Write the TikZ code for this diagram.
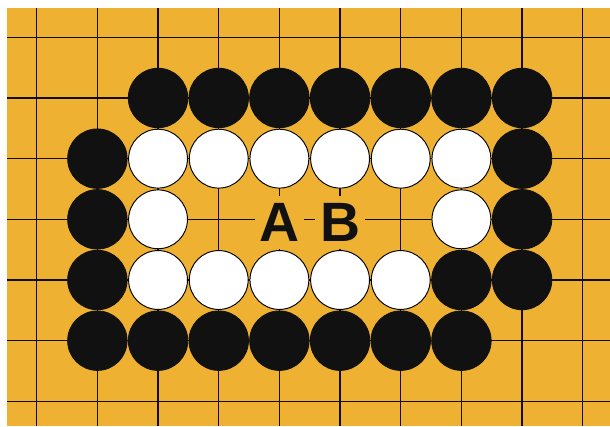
\documentclass[tikz,border=0pt]{standalone}
\usepackage{fontspec}
\usepackage{xcolor}
\usepackage{tikz}
\usetikzlibrary{positioning}
\newfontfamily\labelfont{Liberation Sans}
\definecolor{goboard}{HTML}{EFB132}
\definecolor{stoneblack}{HTML}{111111}

\begin{document}
\begin{tikzpicture}[x=1cm,y=-1cm,
  gridline/.style={line width=0.6pt,black!90!brown},
  blackstone/.style={circle,fill=stoneblack,draw=stoneblack,line width=0.4pt,minimum size=0.98cm,inner sep=0pt},
  whitestone/.style={circle,fill=white,draw=black,line width=0.45pt,minimum size=0.97cm,inner sep=0pt},
  pointlabel/.style={fill=goboard,inner sep=0pt,minimum width=0.81cm,minimum height=0.87cm,
    font=\labelfont\bfseries\fontsize{26}{31}\selectfont,text=stoneblack}]
  \useasboundingbox[fill=white] (-0.605,-0.615) rectangle (9.449,6.407);
  \fill[goboard] (-0.49,-0.49) rectangle (9.449,6.407);
  % grid
  \foreach \c in {0,...,9}
    \draw[gridline] (\c,-0.49) -- (\c,6.407);
  \foreach \r in {0,...,6}
    \draw[gridline] (-0.49,\r) -- (9.449,\r);
  % black stones
  \foreach \c in {2,...,8}
    \node[blackstone] (b1-\c) at (\c,1) {};
  \foreach \c/\r in {1/2,8/2,1/3,8/3,1/4,7/4,8/4}
    \node[blackstone] (b\r-\c) at (\c,\r) {};
  \foreach \c in {1,...,7}
    \node[blackstone] (b5-\c) at (\c,5) {};
  % white stones
  \foreach \c in {2,...,7}
    \node[whitestone] (w2-\c) at (\c,2) {};
  \foreach \c in {2,7}
    \node[whitestone] (w3-\c) at (\c,3) {};
  \foreach \c in {2,...,6}
    \node[whitestone] (w4-\c) at (\c,4) {};
  % points
  \node[pointlabel] (ptA) at (4,3.05) {A};
  \node[pointlabel] (ptB) at (5,3.05) {B};
\end{tikzpicture}
\end{document}
